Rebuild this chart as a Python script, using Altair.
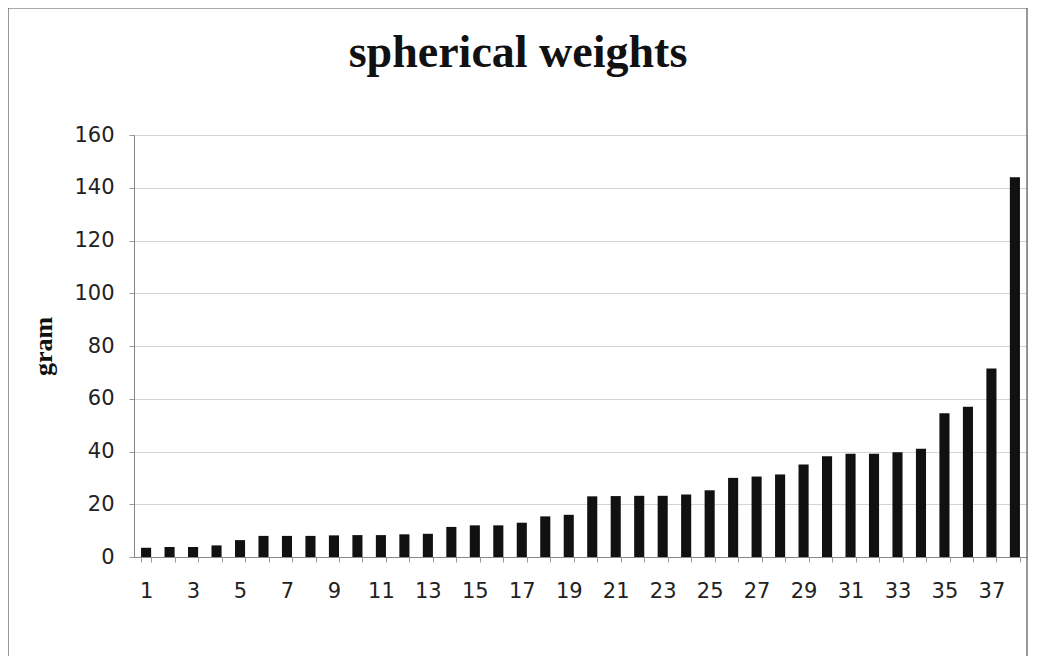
import altair as alt
import pandas as pd

items = list(range(1, 39))
grams = [3.5, 3.8, 3.8, 4.4, 6.4, 8.0, 8.0, 8.0, 8.2, 8.3, 8.3, 8.6, 8.8, 11.4,
         12.0, 12.0, 13.0, 15.4, 16.0, 23.0, 23.1, 23.2, 23.2, 23.7, 25.3, 30.0,
         30.5, 31.3, 35.1, 38.2, 39.1, 39.1, 39.7, 41.0, 54.5, 57.0, 71.5, 144.0]
y_ticks = [0, 20, 40, 60, 80, 100, 120, 140, 160]
title_text = "spherical weights"

df = pd.DataFrame({"item": items, "gram": grams})

W, H = 893, 422

bars = alt.Chart(df).mark_bar(color="#111111").encode(
    x=alt.X("item:O", sort=items,
            scale=alt.Scale(paddingInner=0.57, paddingOuter=0.3),
            axis=alt.Axis(title=None, labelAngle=0,
                          labelExpr="datum.value % 2 == 1 ? datum.label : ''",
                          labelFont="DejaVu Sans", labelFontSize=21, labelColor="#222222",
                          labelPadding=18, tickBand="extent", tickSize=5,
                          tickColor="#999999", domainColor="#888888", grid=False)),
    y=alt.Y("gram:Q", scale=alt.Scale(domain=[0, 160], nice=False),
            axis=alt.Axis(values=y_ticks, title="gram", titleFont="Liberation Serif",
                          titleFontSize=26, titleFontWeight="bold", titleColor="#111111",
                          titleX=-91, titleY=211, titleAngle=-90, titleBaseline="middle",
                          labelFont="DejaVu Sans", labelFontSize=21, labelColor="#222222",
                          labelPadding=15, tickSize=5, tickColor="#999999",
                          domainColor="#888888", gridColor="#d4d4d4")),
)

single = pd.DataFrame({"f": [0]})

frame = alt.Chart(single).mark_rect(
    filled=False, stroke="#555555", strokeWidth=1.2
).encode(
    x=alt.value(-126), x2=alt.value(W), y=alt.value(-127), y2=alt.value(522)
)

title = alt.Chart(single).mark_text(
    font="Liberation Serif", fontSize=46, fontWeight="bold", color="#111111",
    align="center", baseline="alphabetic"
).encode(
    x=alt.value(384), y=alt.value(-68), text=alt.value(title_text)
)

chart = alt.layer(frame, bars, title).properties(
    width=W, height=H,
    autosize=alt.AutoSizeParams(type="none"),
    padding={"left": 126, "top": 127, "right": 27, "bottom": 99},
).configure_view(stroke="#999999", strokeWidth=1.2).configure(background="white")

chart.save("out.html", embed_options={"renderer": "svg", "actions": False})
